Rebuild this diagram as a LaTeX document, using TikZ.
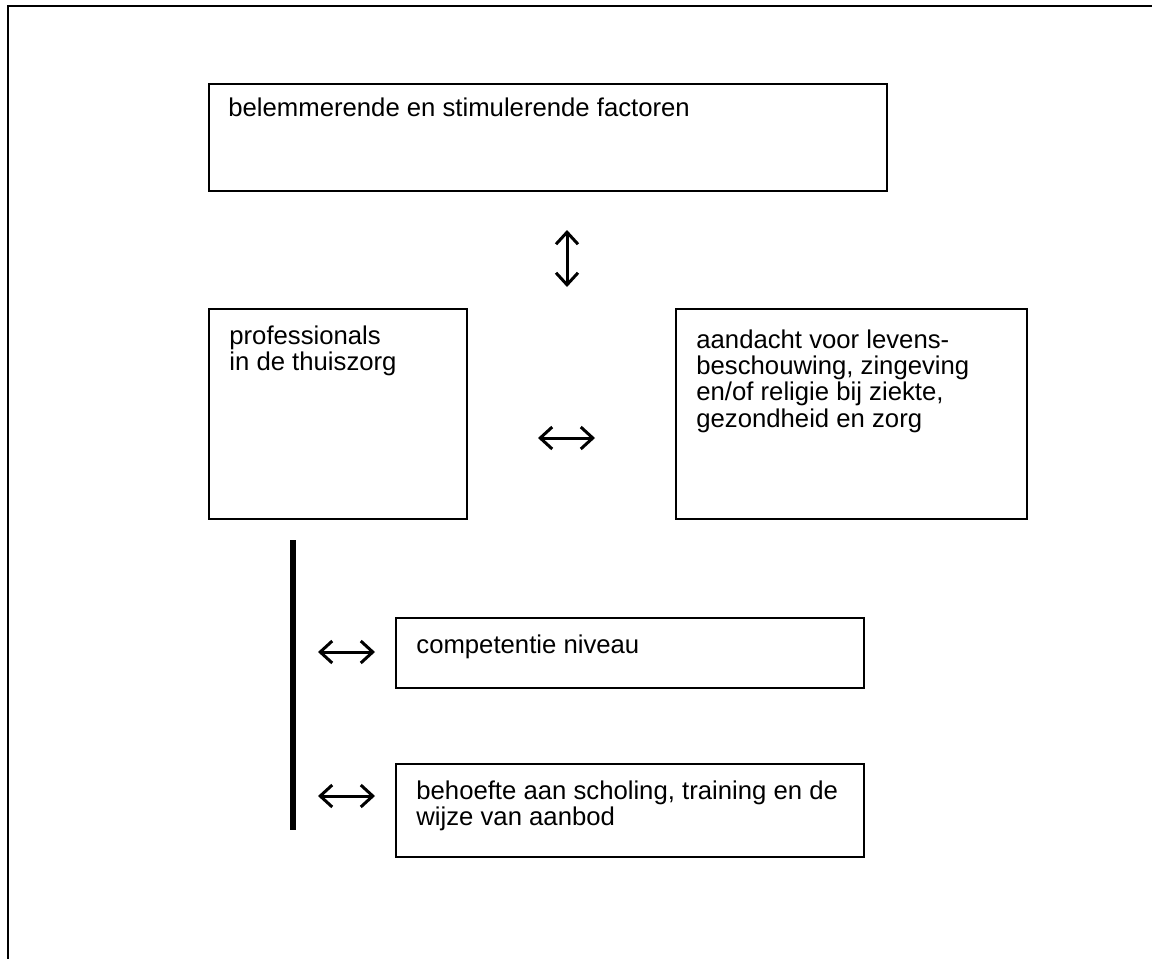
\documentclass[tikz,border=0pt]{standalone}
\usepackage{fontspec}
\setmainfont{Liberation Sans}
\usetikzlibrary{arrows.meta}

\begin{document}
\begin{tikzpicture}[x=0.5pt,y=-0.5pt,
  blok/.style={draw,line width=0.75pt,inner sep=0pt,anchor=north west},
  tekst/.style={anchor=north west,inner sep=0pt,align=left,font=\fontsize{12.85}{13.2}\selectfont},
  pijl/.style={{Straight Barb[length=6pt,width=11pt]}-{Straight Barb[length=6pt,width=11pt]},line width=1.5pt}]
\useasboundingbox (0,0) rectangle (1152,959);

% kader
\draw[line width=1pt] (8,959) -- (8,6) -- (1152,6);

% blokken
\node[blok,minimum width=339pt,minimum height=53.5pt] (factoren) at (208,83) {};
\node[blok,minimum width=129pt,minimum height=105pt] (prof) at (208,308) {};
\node[blok,minimum width=175.5pt,minimum height=105pt] (aandacht) at (675,308) {};
\node[blok,minimum width=234pt,minimum height=35pt] (niveau) at (395,617) {};
\node[blok,minimum width=234pt,minimum height=46.5pt] (scholing) at (395,763) {};

\node[tekst] (factorentxt) at ([shift={(20,14)}]factoren.north west) {belemmerende en stimulerende factoren};
\node[tekst] (proftxt) at ([shift={(21,17)}]prof.north west) {professionals\\in de thuiszorg};
\node[tekst] (aandachttxt) at ([shift={(21,21)}]aandacht.north west) {aandacht voor levens-\\beschouwing, zingeving\\en/of religie bij ziekte,\\gezondheid en zorg};
\node[tekst] (niveautxt) at ([shift={(21,17)}]niveau.north west) {competentie niveau};
\node[tekst] (scholingtxt) at ([shift={(21,17)}]scholing.north west) {behoefte aan scholing, training en de\\wijze van aanbod};

% balk
\draw[line width=3pt] (293,540) -- (293,830);

% pijlen
\coordinate (v1) at (567,230);
\coordinate (v2) at (567,287);
\draw[pijl] (v1) -- (v2);
\coordinate (h1) at (538,438);
\coordinate (h2) at (595,438);
\draw[pijl] (h1) -- (h2);
\foreach \y/\n in {652/a,796/b}{
\coordinate (\n1) at (318,\y);
\coordinate (\n2) at (375,\y);
\draw[pijl] (\n1) -- (\n2);
}
\end{tikzpicture}
\end{document}
